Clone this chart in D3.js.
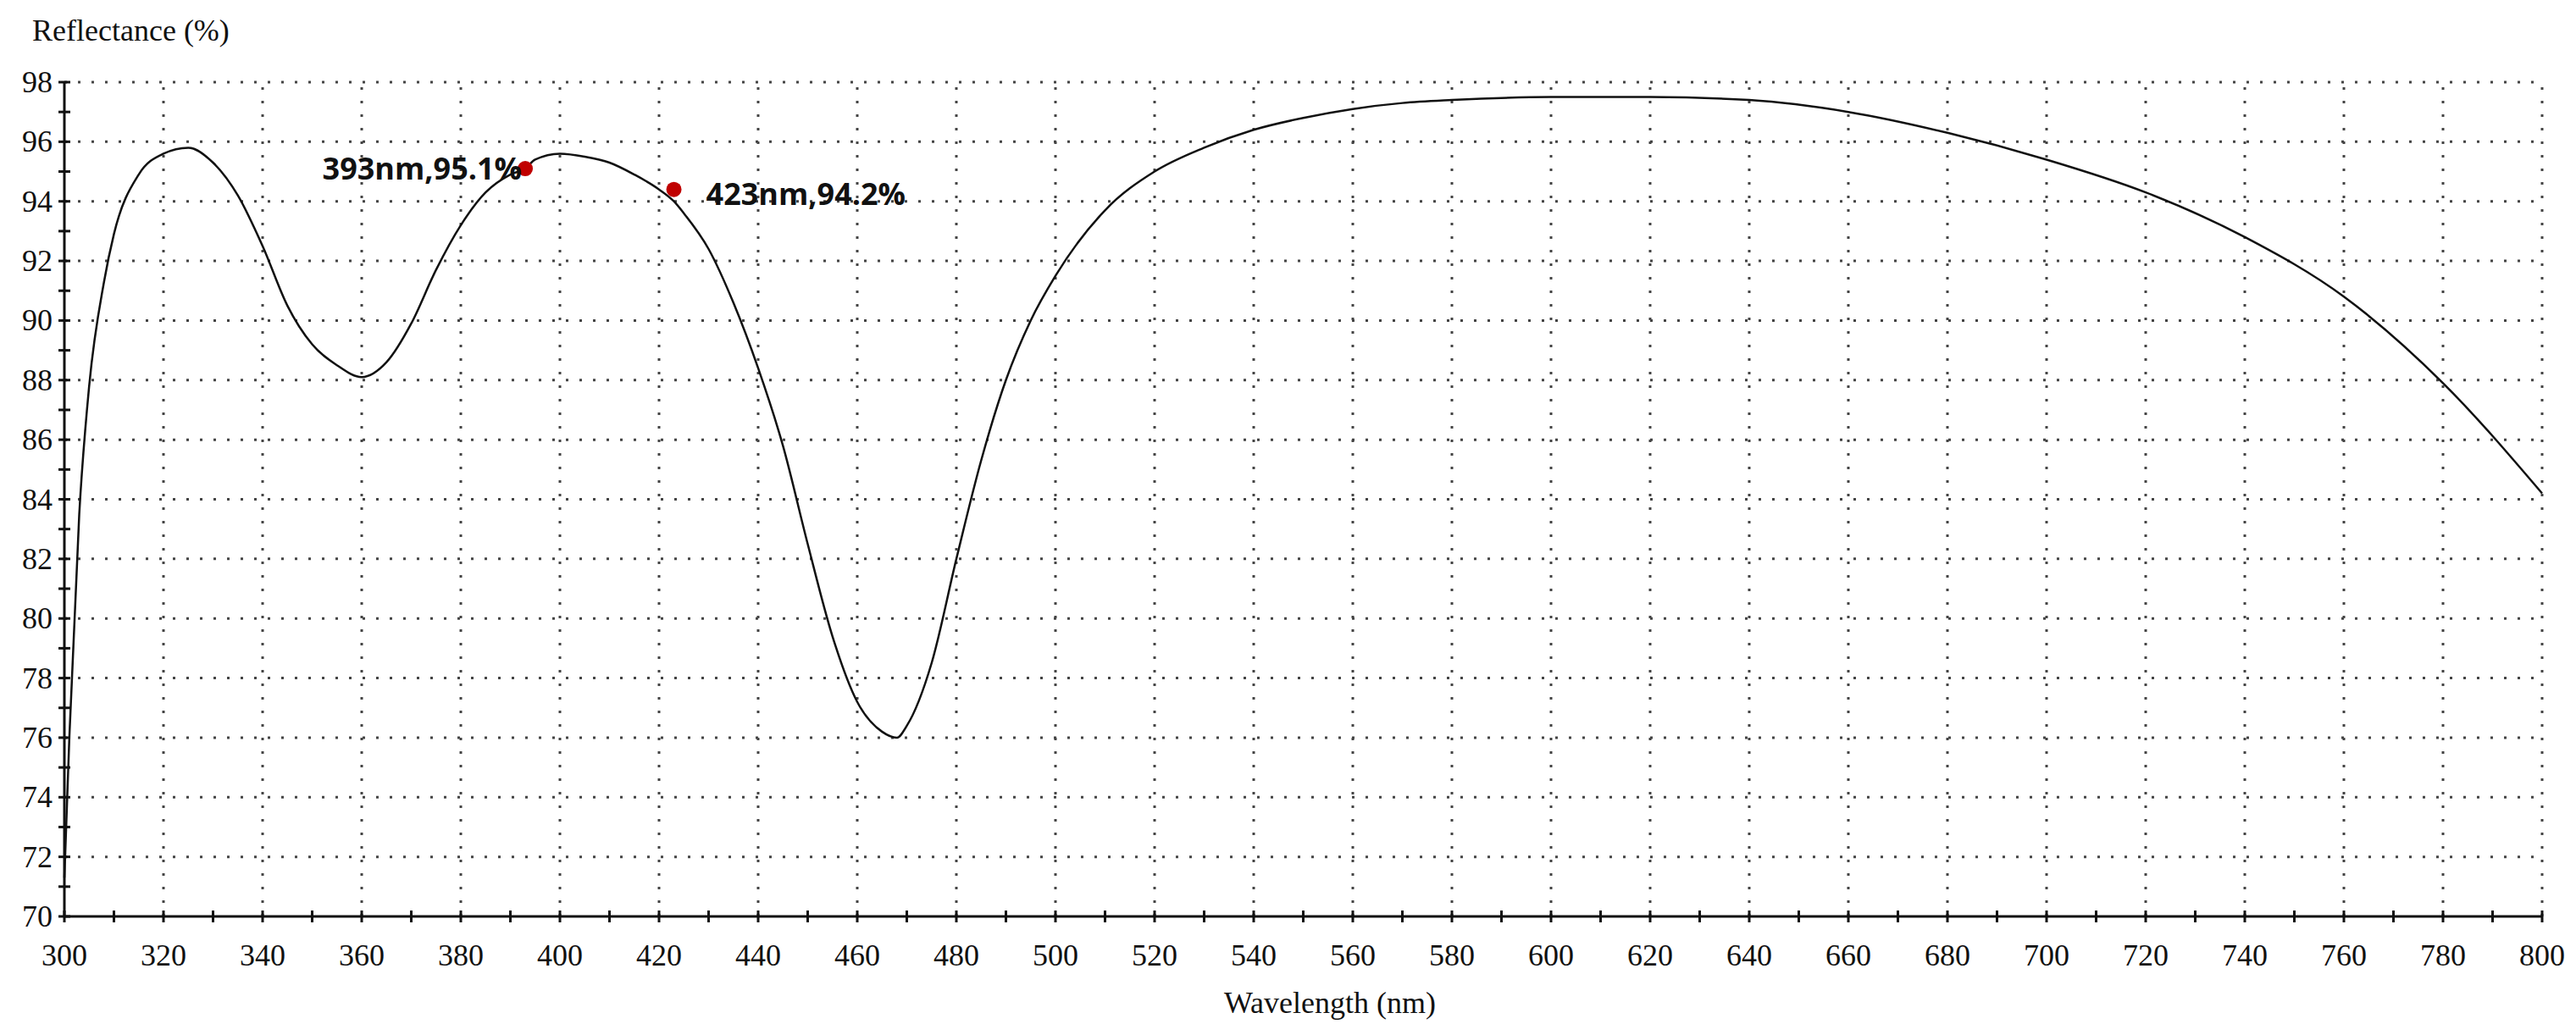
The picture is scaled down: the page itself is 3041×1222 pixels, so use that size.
<!DOCTYPE html>
<html><head><meta charset="utf-8">
<script src="https://cdn.jsdelivr.net/npm/d3@7"></script>
<style>body{margin:0;background:#fff}</style></head>
<body><svg id="c" width="3041" height="1222"></svg>
<script>
const wavelength = [300,301,303,305,308,310,315,320,325,330,335,340,345,350,355,360,365,370,375,380,385,390,393,395,400,405,410,415,420,423,425,430,435,440,445,450,455,460,465,468,470,475,480,485,490,495,500,510,520,530,540,550,560,570,580,600,620,640,660,680,700,720,740,760,780,800];
const reflectance = [71.3,76,83.5,87.8,91.3,92.9,94.9,95.6,95.8,95.3,94.2,92.5,90.5,89.2,88.5,88.1,88.6,89.9,91.7,93.2,94.3,94.9,95.1,95.4,95.6,95.5,95.3,94.9,94.4,94.0,93.6,92.4,90.6,88.4,85.8,82.5,79.4,77.2,76.2,76.0,76.4,78.5,82.0,85.3,88.0,90.0,91.5,93.7,95.0,95.8,96.4,96.8,97.1,97.3,97.4,97.5,97.5,97.4,97.0,96.3,95.4,94.3,92.8,90.8,87.9,84.2];
const markers = [{x:393,y:95.1,label:"393nm,95.1%",side:"left"},{x:423,y:94.4,label:"423nm,94.2%",side:"right"}];
const xTicks = d3.range(300,801,20);
const yTicks = d3.range(70,99,2);

const svg = d3.select("#c");
const x = d3.scaleLinear().domain([300,800]).range([76,3001]);
const y = d3.scaleLinear().domain([70,98]).range([1082,97]);
const serif = "'Liberation Serif','Times New Roman',serif";

const g = svg.append("g").attr("stroke","#444").attr("stroke-width",3).attr("stroke-dasharray","3,13");
g.selectAll(".vx").data(xTicks.slice(1)).join("line").attr("x1",d=>x(d)).attr("x2",d=>x(d)).attr("y1",y(70)).attr("y2",y(98));
g.selectAll(".hy").data(yTicks.slice(1)).join("line").attr("y1",d=>y(d)).attr("y2",d=>y(d)).attr("x1",x(300)).attr("x2",x(800));

const ax = svg.append("g").attr("stroke","#111");
ax.append("line").attr("x1",x(300)).attr("x2",x(800)).attr("y1",y(70)).attr("y2",y(70)).attr("stroke-width",3);
ax.append("line").attr("x1",x(300)).attr("x2",x(300)).attr("y1",y(70)).attr("y2",y(98)).attr("stroke-width",3);
ax.selectAll(".xt").data(d3.range(300,801,10)).join("line").attr("x1",d=>x(d)).attr("x2",d=>x(d)).attr("y1",y(70)-7).attr("y2",y(70)+7).attr("stroke-width",3);
ax.selectAll(".yt").data(d3.range(70,99,1)).join("line").attr("y1",d=>y(d)).attr("y2",d=>y(d)).attr("x1",x(300)-7).attr("x2",x(300)+7).attr("stroke-width",3);

svg.selectAll(".xl").data(xTicks).join("text").attr("x",d=>x(d)).attr("y",1140).attr("text-anchor","middle")
  .attr("font-family",serif).attr("font-size",36).attr("fill","#111").text(d=>d);
svg.selectAll(".yl").data(yTicks).join("text").attr("x",62).attr("y",d=>y(d)+12).attr("text-anchor","end")
  .attr("font-family",serif).attr("font-size",36).attr("fill","#111").text(d=>d);
svg.append("text").attr("x",38).attr("y",48).attr("font-family",serif).attr("font-size",36).attr("fill","#111").text("Reflectance (%)");
svg.append("text").attr("x",1570).attr("y",1196).attr("text-anchor","middle").attr("font-family",serif).attr("font-size",36).attr("fill","#111").text("Wavelength (nm)");

svg.append("path").datum(wavelength.map((w,i)=>[w,reflectance[i]]))
  .attr("d",d3.line().x(d=>x(d[0])).y(d=>y(d[1])).curve(d3.curveMonotoneX))
  .attr("fill","none").attr("stroke","#111").attr("stroke-width",2.5);

svg.selectAll(".m").data(markers).join("circle").attr("cx",d=>x(d.x)).attr("cy",d=>y(d.y)).attr("r",9).attr("fill","#c00000");
svg.selectAll(".ml").data(markers).join("text")
  .attr("x",d=>d.side==="left"?x(d.x)-4:x(d.x)+38).attr("y",d=>d.side==="left"?y(d.y)+13:y(d.y)+18)
  .attr("text-anchor",d=>d.side==="left"?"end":"start")
  .attr("font-family","'Open Sans','Liberation Sans',sans-serif").attr("font-weight","bold").attr("font-size",36).attr("fill","#111")
  .text(d=>d.label);
</script></body></html>
